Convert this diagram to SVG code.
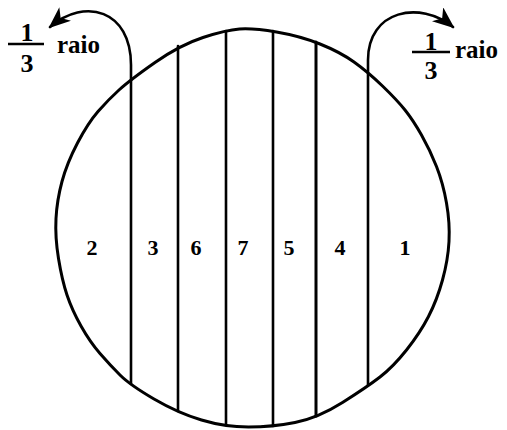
<svg xmlns="http://www.w3.org/2000/svg" width="507" height="430" viewBox="0 0 507 430">
<style>
.ln{fill:none;stroke:#000;stroke-width:2.6;stroke-linecap:round;stroke-linejoin:round}
.bd{fill:none;stroke:#000;stroke-width:3;stroke-linejoin:round}
.lbl{font-family:"Liberation Serif","Times New Roman",serif;font-weight:bold;font-size:22px;text-anchor:middle;fill:#000}
.fr{font-family:"Liberation Serif","Times New Roman",serif;font-weight:bold;font-size:26px;text-anchor:middle;fill:#000}
.ra{font-family:"Liberation Serif","Times New Roman",serif;font-weight:bold;font-size:25px;fill:#000}
</style>
<defs>
<marker id="ah" markerUnits="userSpaceOnUse" markerWidth="22" markerHeight="18" viewBox="0 0 22 18" refX="20" refY="9" orient="auto">
<path d="M0,0 L22,9 L0,18 L6,9 Z" fill="#000"/>
</marker>
</defs>
<rect width="507" height="430" fill="#fff"/>
<g id="circle">
<path class="bd" d="M 276.5,32 Q 300,36 320,44 Q 340,52 354,62 Q 368,72 382.5,86 Q 397,100 405,110 Q 413,120 421.5,135 Q 430,150 436.5,166.5 Q 443,183 446.5,203 Q 450,223 449,241.5 Q 448,260 442.5,280 Q 437,300 428.5,316.5 Q 420,333 406.5,350 Q 393,367 380,377 Q 367,387 342.5,402.5 Q 318,418 295,422.5 Q 272,427 248.5,427 Q 225,427 201.5,420 Q 178,413 154,399 Q 130,385 120,375 Q 110,365 100,353.5 Q 90,342 81,326 Q 72,310 67,295 Q 62,280 58.5,258.5 Q 55,237 56,218.5 Q 57,200 62,181.5 Q 67,163 77.5,143 Q 88,123 98,111.5 Q 108,100 119,90 Q 130,80 155,62.5 Q 180,45 203,37.5 Q 226,30 239.5,29 Q 253,28 276.5,32 Z"/>
</g>
<g id="connectors">
<path class="ln" d="M131,384 L131,65 C131,10 85,-3 50,27" marker-end="url(#ah)"/>
<path class="ln" d="M368,385 L368,60 C368,10 420,0 453,27" marker-end="url(#ah)"/>
<line class="ln" x1="178" y1="46" x2="178" y2="411"/>
<line class="ln" x1="226" y1="31" x2="226" y2="425"/>
<line class="ln" x1="273" y1="31" x2="273" y2="426"/>
<line class="ln" x1="316" y1="42" x2="316" y2="416" style="stroke-width:3"/>
</g>
<g id="labels">
<text class="lbl" x="92" y="255">2</text>
<text class="lbl" x="153" y="255">3</text>
<text class="lbl" x="196" y="255">6</text>
<text class="lbl" x="243" y="255">7</text>
<text class="lbl" x="289" y="255">5</text>
<text class="lbl" x="340" y="255">4</text>
<text class="lbl" x="405" y="255">1</text>
</g>
<g id="frac-left">
<text class="fr" x="27" y="41">1</text>
<line x1="8" y1="44" x2="44" y2="44" stroke="#000" stroke-width="2.6"/>
<text class="fr" x="27" y="72">3</text>
<text class="ra" x="57" y="53">raio</text>
</g>
<g id="frac-right">
<text class="fr" x="431" y="50">1</text>
<line x1="412" y1="52" x2="450" y2="52" stroke="#000" stroke-width="2.6"/>
<text class="fr" x="431" y="79">3</text>
<text class="ra" x="455" y="58">raio</text>
</g>
</svg>
